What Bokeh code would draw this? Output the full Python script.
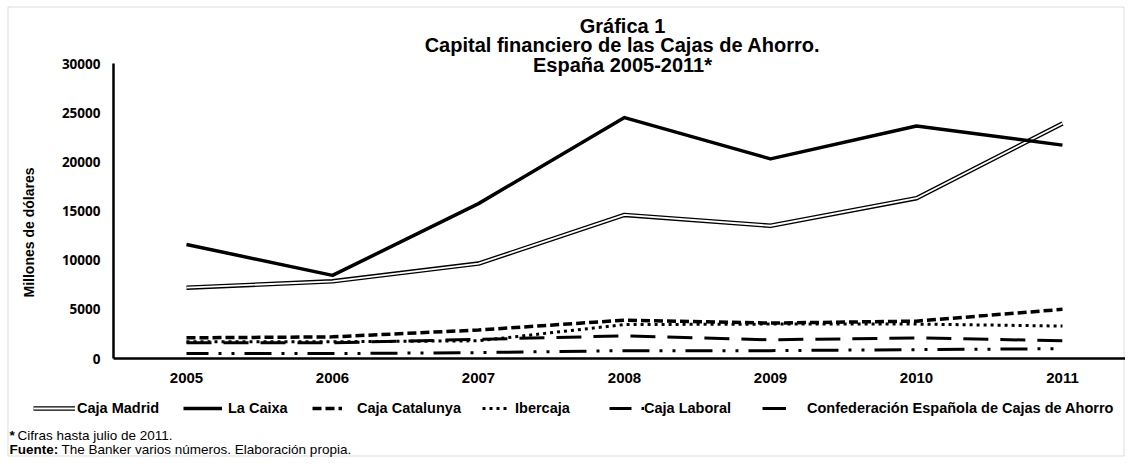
import math
from bokeh.plotting import figure
from bokeh.models import (ColumnDataSource, Range1d, FixedTicker, LinearAxis,
                          Legend, LegendItem, Label, BoxAnnotation)
from bokeh.embed import file_html
from bokeh.resources import INLINE

# ---------------- data ----------------
years = ["2005", "2006", "2007", "2008", "2009", "2010", "2011"]
caja_madrid = [7200, 7850, 9650, 14600, 13500, 16300, 23900]
la_caixa = [11600, 8450, 15750, 24500, 20300, 23650, 21700]
caja_catalunya = [2100, 2200, 2900, 3900, 3600, 3800, 5000]
ibercaja = [1700, 1700, 1800, 3450, 3500, 3500, 3300]
caja_laboral = [500, 500, 600, 800, 800, 900, 1000]
confederacion = [1600, 1600, 1950, 2300, 1900, 2100, 1800]
y_ticks = [0, 5000, 10000, 15000, 20000, 25000, 30000]

series_names = ["Caja Madrid", "La Caixa", "Caja Catalunya", "Ibercaja",
                "Caja Laboral", "Confederación Española de Cajas de Ahorro"]
title_lines = ["Gráfica 1", "Capital financiero de las Cajas de Ahorro.",
               "España 2005-2011*"]
y_title = "Millones de dólares"
foot_star = "*"
foot_1 = "Cifras hasta julio de 2011."
foot_src = "Fuente:"
foot_2 = "The Banker varios números. Elaboración propia."

# category positions (centre of each category band, like a categorical scale)
x_pos = [i + 0.5 for i in range(len(years))]

src = ColumnDataSource(dict(x=x_pos, madrid=caja_madrid, caixa=la_caixa,
                            cat=caja_catalunya, iber=ibercaja,
                            lab=caja_laboral, conf=confederacion))

W, H = 1125, 457
cat_px = 146.0          # width of one category band in pixels
x0_px = 113.0           # pixel position of the value axis
y0_px = 358.0           # pixel row of value 0
ytop_px = 63.0          # pixel row of value 30000
ymax = 30000.0
upp = ymax / (y0_px - ytop_px)   # data units per pixel (vertical)

p = figure(width=W, height=H,
           x_range=Range1d(-x0_px / cat_px, (W - x0_px) / cat_px),
           y_range=Range1d(-(H - y0_px) * upp, ymax + ytop_px * upp),
           output_backend="svg", toolbar_location=None,
           x_axis_location=None, y_axis_location=None,
           min_border=0, min_border_left=0, min_border_right=0,
           min_border_top=0, min_border_bottom=0)
p.outline_line_color = None
p.grid.visible = False
p.background_fill_color = "white"
p.border_fill_color = "white"

# outer chart-area border
p.add_layout(BoxAnnotation(left=7.5, right=W - 1.5, bottom=1.5, top=H - 6.5,
                           left_units="screen", right_units="screen",
                           bottom_units="screen", top_units="screen",
                           fill_alpha=0, line_color="#8a8a8a", line_width=1,
                           level="underlay"))

yax = LinearAxis(fixed_location=0, bounds=(0, ymax),
                 ticker=FixedTicker(ticks=y_ticks))
xax = LinearAxis(fixed_location=0, bounds=(0, len(years)),
                 ticker=FixedTicker(ticks=x_pos),
                 major_label_overrides={xp: yr for xp, yr in zip(x_pos, years)})
for ax in (xax, yax):
    ax.axis_line_color = "black"
    ax.axis_line_width = 2.5
    ax.major_tick_line_color = None
    ax.minor_tick_line_color = None
    ax.major_tick_out = 0
    ax.major_label_text_color = "black"
    ax.major_label_text_font_style = "bold"
xax.major_label_standoff = 14
yax.major_label_standoff = 13
xax.major_label_text_font = "Liberation Sans"
xax.major_label_text_font_size = "15px"
yax.major_label_text_font = "Open Sans"
yax.major_label_text_font_size = "13.5px"
p.add_layout(yax, "left")
p.add_layout(xax, "below")

# lines
r_m1 = p.line("x", "madrid", source=src, line_color="black", line_width=4.5,
              line_join="round")
r_m2 = p.line("x", "madrid", source=src, line_color="white", line_width=1.8,
              line_join="round")
r_lc = p.line("x", "caixa", source=src, line_color="black", line_width=3.5,
              line_join="round")
r_cat = p.line("x", "cat", source=src, line_color="black", line_width=3.5,
               line_dash="9 4")
r_ib = p.line("x", "iber", source=src, line_color="black", line_width=3,
              line_dash="3 4")
r_lab = p.line("x", "lab", source=src, line_color="black", line_width=3,
               line_dash="27 10 3 10 3 10", line_dash_offset=5)
r_conf = p.line("x", "conf", source=src, line_color="black", line_width=3,
                line_dash="25 12")

# legends (one per item, positioned like the original)
leg_specs = [
    (series_names[0], [r_m1, r_m2], 33, 42, 2),
    (series_names[1], [r_lc], 183, 39, 6),
    (series_names[2], [r_cat], 312, 30, 15),
    (series_names[3], [r_ib], 482, 28, 5),
    (series_names[4], [r_lab], 609, 35, 0),
    (series_names[5], [r_conf], 762, 24, 21),
]
for name, rends, lx, gw, ls in leg_specs:
    leg = Legend(items=[LegendItem(label=name, renderers=rends)],
                 location=(lx, H - 408 - 8), orientation="horizontal",
                 glyph_width=gw, glyph_height=16, label_height=16,
                 label_standoff=ls, padding=0, margin=0, spacing=0,
                 border_line_color=None, background_fill_alpha=0,
                 label_text_font="Liberation Sans",
                 label_text_font_style="bold",
                 label_text_font_size="14.5px", label_text_color="black")
    p.add_layout(leg)

# title
for t, yy in zip(title_lines, [25, 44.5, 64]):
    p.add_layout(Label(x=622, y=H - yy, x_units="screen", y_units="screen",
                       text=t, text_align="center", text_baseline="middle",
                       text_font="Liberation Sans", text_font_style="bold",
                       text_font_size="20px", text_color="black"))

# y axis title
p.add_layout(Label(x=28, y=H - 232, x_units="screen", y_units="screen",
                   text=y_title, angle=math.pi / 2, text_align="center",
                   text_baseline="middle", text_font="Liberation Sans",
                   text_font_style="bold", text_font_size="14px",
                   text_color="black"))

# footnotes
foot_font = dict(text_font="Liberation Sans", text_font_size="13.5px",
                 text_color="black", text_baseline="middle",
                 x_units="screen", y_units="screen")
p.add_layout(Label(x=9, y=H - 435, text=foot_star, text_font_style="bold", **foot_font))
p.add_layout(Label(x=17, y=H - 435, text=foot_1, **foot_font))
p.add_layout(Label(x=9, y=H - 449, text=foot_src, text_font_style="bold", **foot_font))
p.add_layout(Label(x=61, y=H - 449, text=foot_2, **foot_font))

open("out.html", "w").write(file_html(p, INLINE))
